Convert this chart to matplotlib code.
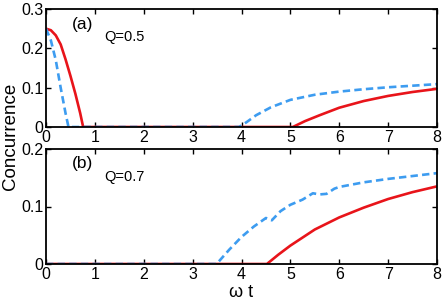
import numpy as np
import matplotlib
matplotlib.use("Agg")
from matplotlib import pyplot as plt

plt.rcParams['font.family'] = ['Liberation Sans', 'DejaVu Sans']

# panel (a), Q=0.5
t_a_red = [0, 0.1, 0.2, 0.3, 0.4, 0.5, 0.6, 0.7, 0.76, 5.05, 5.3, 5.6, 6.0, 6.5, 7.0, 7.5, 8.0]
c_a_red = [0.25, 0.246, 0.233, 0.21, 0.172, 0.13, 0.085, 0.035, 0, 0, 0.015, 0.03, 0.049, 0.066, 0.079, 0.089, 0.097]
t_a_blue = [0, 0.1, 0.2, 0.3, 0.4, 0.46, 3.95, 4.1, 4.3, 4.6, 5.0, 5.5, 6.0, 6.5, 7.0, 7.5, 8.0]
c_a_blue = [0.25, 0.22, 0.17, 0.10, 0.035, 0, 0, 0.012, 0.03, 0.05, 0.069, 0.082, 0.090, 0.096, 0.101, 0.105, 0.109]

# panel (b), Q=0.7
t_b_red = [0, 4.52, 4.75, 5.0, 5.5, 6.0, 6.5, 7.0, 7.5, 8.0]
c_b_red = [0, 0, 0.016, 0.032, 0.06, 0.081, 0.098, 0.113, 0.125, 0.135]
t_b_blue = [0, 3.49, 3.75, 4.0, 4.25, 4.5, 4.62, 4.8, 5.0, 5.25, 5.46, 5.6, 5.74, 5.9, 6.0, 6.5, 7.0, 7.5, 8.0]
c_b_blue = [0, 0, 0.025, 0.047, 0.065, 0.080, 0.076, 0.092, 0.103, 0.112, 0.123, 0.121, 0.122, 0.131, 0.134, 0.142, 0.148, 0.153, 0.158]

red = "#e8141a"
blue = "#3d9cf0"

fig = plt.figure(figsize=(4.43, 3.03), dpi=100)
ax1 = fig.add_axes([46/443, 1-127/303, 391/443, 118/303])
ax2 = fig.add_axes([46/443, 1-264/303, 391/443, 115/303])

panels = [
    (ax1, t_a_red, c_a_red, t_a_blue, c_a_blue, 0.3, [0, 0.1, 0.2, 0.3], ["0", "0.1", "0.2", "0.3"], "(a)", "Q=0.5"),
    (ax2, t_b_red, c_b_red, t_b_blue, c_b_blue, 0.2, [0, 0.1, 0.2], ["0", "0.1", "0.2"], "(b)", "Q=0.7"),
]
for ax, tr, cr, tb, cb, ymax, yt, ytl, lab, q in panels:
    ax.plot(tr, cr, color=red, lw=1.9, solid_capstyle="butt")
    ax.plot(tb, cb, color=blue, lw=1.9, dashes=(2.8, 1.6))
    ax.set_xlim(0, 8)
    ax.set_ylim(0, ymax)
    ax.set_xticks(range(9))
    ax.set_yticks(yt)
    ax.set_yticklabels(ytl)
    ax.tick_params(direction="in", top=True, right=True, labelsize=11.5, length=3.5, width=1)
    ax.tick_params(axis="x", pad=2.5)
    ax.tick_params(axis="y", pad=2)
    for s in ax.spines.values():
        s.set_linewidth(1.3)
    ax.text(0.065, 0.87, lab, transform=ax.transAxes, fontsize=12.5, ha="left", va="center")
    ax.text(0.15, 0.76, q, transform=ax.transAxes, fontsize=10.5, ha="left", va="center")

ax2.set_xlabel("ω t", fontsize=13, labelpad=1)
fig.text(0.024, (1-264/303 + 1-9/303)/2, "Concurrence", rotation=90, fontsize=13.5, ha="center", va="center")

plt.savefig("out.png", dpi=100)
plt.close()
